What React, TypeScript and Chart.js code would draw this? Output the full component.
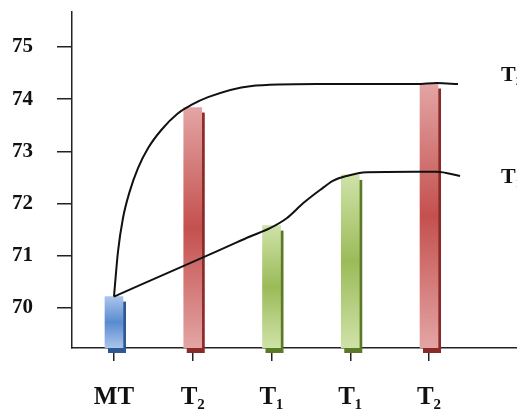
import React, { useEffect, useRef } from "react";
import { Chart, registerables } from "chart.js";

Chart.register(...registerables);

// ---- data ----
const CATEGORIES = ["MT", "T₂", "T₁", "T₁", "T₂"];
const BAR_X = [1, 2, 3, 4, 5];
const BAR_VALUES = [70.22, 73.84, 71.58, 72.55, 74.3];
const BAR_GROUP = ["blue", "red", "green", "green", "red"];
const Y_TICKS = [70, 71, 72, 73, 74, 75];
const Y_MIN = 69.235;
const Y_MAX = 75.67;
const X_MIN = 0.467;
const X_MAX = 6.117;

// upper trend curve (T₂)
const T2_X = [1, 1.051, 1.114, 1.199, 1.305, 1.432, 1.601, 1.813, 1.982, 2.194, 2.727, 3.574, 4.844, 5.098, 5.368];
const T2_Y = [70.22, 71.08, 71.72, 72.23, 72.68, 73.06, 73.41, 73.73, 73.89, 74.04, 74.25, 74.29, 74.29, 74.31, 74.29];
// lower trend curve (T₁)
const T1_X = [1, 1.965, 2.473, 2.727, 2.981, 3.193, 3.404, 3.616, 3.785, 3.955, 4.209, 4.797, 5.098, 5.394];
const T1_Y = [70.22, 70.86, 71.2, 71.37, 71.53, 71.72, 72.01, 72.26, 72.44, 72.53, 72.6, 72.61, 72.61, 72.53];
const LINE_LABELS = ["T₂", "T₁"];

const PALETTE: Record<string, { light: string; mid: string; dark: string }> = {
  blue: { light: "#aac5ea", mid: "#5a8bd0", dark: "#2e5892" },
  red: { light: "#e3a5a4", mid: "#c4504e", dark: "#8a2927" },
  green: { light: "#cfe2a8", mid: "#9bbb59", dark: "#5b7a28" },
};

const SERIF = '"Liberation Serif", "DejaVu Serif", serif';

export default function App() {
  const ref = useRef<HTMLCanvasElement | null>(null);

  useEffect(() => {
    document.body.style.margin = "0";
    const canvas = ref.current!;

    const barShadow = {
      id: "barShadow",
      beforeDatasetsDraw(chart: any) {
        const ctx = chart.ctx;
        chart.data.datasets.forEach((ds: any, di: number) => {
          if (ds.type !== "bar") return;
          const meta = chart.getDatasetMeta(di);
          meta.data.forEach((el: any, i: number) => {
            const w = el.width;
            const left = el.x - w / 2;
            ctx.save();
            ctx.fillStyle = PALETTE[BAR_GROUP[i]].dark;
            ctx.fillRect(left + 3, el.y + 5, w, el.base - el.y);
            ctx.restore();
          });
        });
      },
    };

    const lineLabels = {
      id: "lineLabels",
      afterDatasetsDraw(chart: any) {
        const ctx = chart.ctx;
        const offsets = [-8.5, 1.5];
        let li = 0;
        chart.data.datasets.forEach((ds: any, di: number) => {
          if (ds.type !== "line") return;
          const meta = chart.getDatasetMeta(di);
          const last = meta.data[meta.data.length - 1];
          ctx.save();
          ctx.fillStyle = "#111";
          ctx.font = `bold 22px ${SERIF}`;
          ctx.textAlign = "left";
          ctx.textBaseline = "middle";
          ctx.fillText(LINE_LABELS[li], 501, last.y + offsets[li]);
          ctx.restore();
          li++;
        });
      },
    };

    const barGradient = (c: any) => {
      const chart = c.chart;
      const i = c.dataIndex;
      const grp = BAR_GROUP[i] || "blue";
      const pal = PALETTE[grp];
      const ys = chart.scales && chart.scales.y;
      if (!ys || i === undefined || !chart.chartArea) return pal.mid;
      const top = ys.getPixelForValue(BAR_VALUES[i]);
      const bot = ys.getPixelForValue(Y_MIN);
      if (!isFinite(top) || !isFinite(bot) || top === bot) return pal.mid;
      const g = chart.ctx.createLinearGradient(0, top, 0, bot);
      g.addColorStop(0, pal.light);
      g.addColorStop(0.5, pal.mid);
      g.addColorStop(1, pal.light);
      return g;
    };

    const chart = new Chart(canvas, {
      type: "bar",
      data: {
        datasets: [
          {
            type: "line",
            data: T2_X.map((x, k) => ({ x, y: T2_Y[k] })),
            borderColor: "#111",
            borderWidth: 2,
            pointRadius: 0,
            cubicInterpolationMode: "monotone",
            fill: false,
            order: 0,
          } as any,
          {
            type: "line",
            data: T1_X.map((x, k) => ({ x, y: T1_Y[k] })),
            borderColor: "#111",
            borderWidth: 2,
            pointRadius: 0,
            cubicInterpolationMode: "monotone",
            fill: false,
            order: 0,
          } as any,
          {
            type: "bar",
            data: BAR_X.map((x, k) => ({ x, y: BAR_VALUES[k] })),
            base: Y_MIN,
            barThickness: 18,
            backgroundColor: barGradient,
            borderWidth: 0,
            order: 1,
          } as any,
        ],
      },
      options: {
        responsive: false,
        animation: false,
        devicePixelRatio: 1,
        layout: { padding: 0 },
        plugins: { legend: { display: false }, tooltip: { enabled: false } },
        scales: {
          x: {
            type: "linear",
            offset: false,
            min: X_MIN,
            max: X_MAX,
            afterBuildTicks: (s: any) => {
              s.ticks = BAR_X.map((v) => ({ value: v }));
            },
            afterFit: (s: any) => {
              s.height = 64;
              s.paddingLeft = 0;
              s.paddingRight = 0;
            },
            grid: { offset: false, drawOnChartArea: false, drawTicks: true, tickLength: 13, color: "#222", lineWidth: 1.5 },
            border: { display: true, color: "#222", width: 1.5 },
            ticks: {
              autoSkip: false,
              maxRotation: 0,
              padding: 22,
              color: "#111",
              font: { family: SERIF, size: 25, weight: "bold" },
              callback: (v: any) => CATEGORIES[BAR_X.indexOf(Number(v))] ?? "",
            },
          },
          y: {
            type: "linear",
            min: Y_MIN,
            max: Y_MAX,
            afterBuildTicks: (s: any) => {
              s.ticks = Y_TICKS.map((v) => ({ value: v }));
            },
            afterFit: (s: any) => {
              s.width = 72;
              s.paddingTop = 12;
              s.paddingBottom = 0;
            },
            grid: { drawOnChartArea: false, drawTicks: true, tickLength: 15, color: "#222", lineWidth: 1.5 },
            border: { display: true, color: "#222", width: 1.5 },
            ticks: {
              padding: 24,
              color: "#111",
              font: { family: SERIF, size: 21, weight: "bold" },
              callback: (v: any) => String(v),
            },
          },
        },
      } as any,
      plugins: [barShadow, lineLabels],
    });

    return () => chart.destroy();
  }, []);

  return (
    <div style={{ position: "fixed", left: 0, top: 0, width: 517, height: 412, background: "#fff" }}>
      <canvas ref={ref} width={517} height={412} style={{ width: 517, height: 412 }} />
    </div>
  );
}
